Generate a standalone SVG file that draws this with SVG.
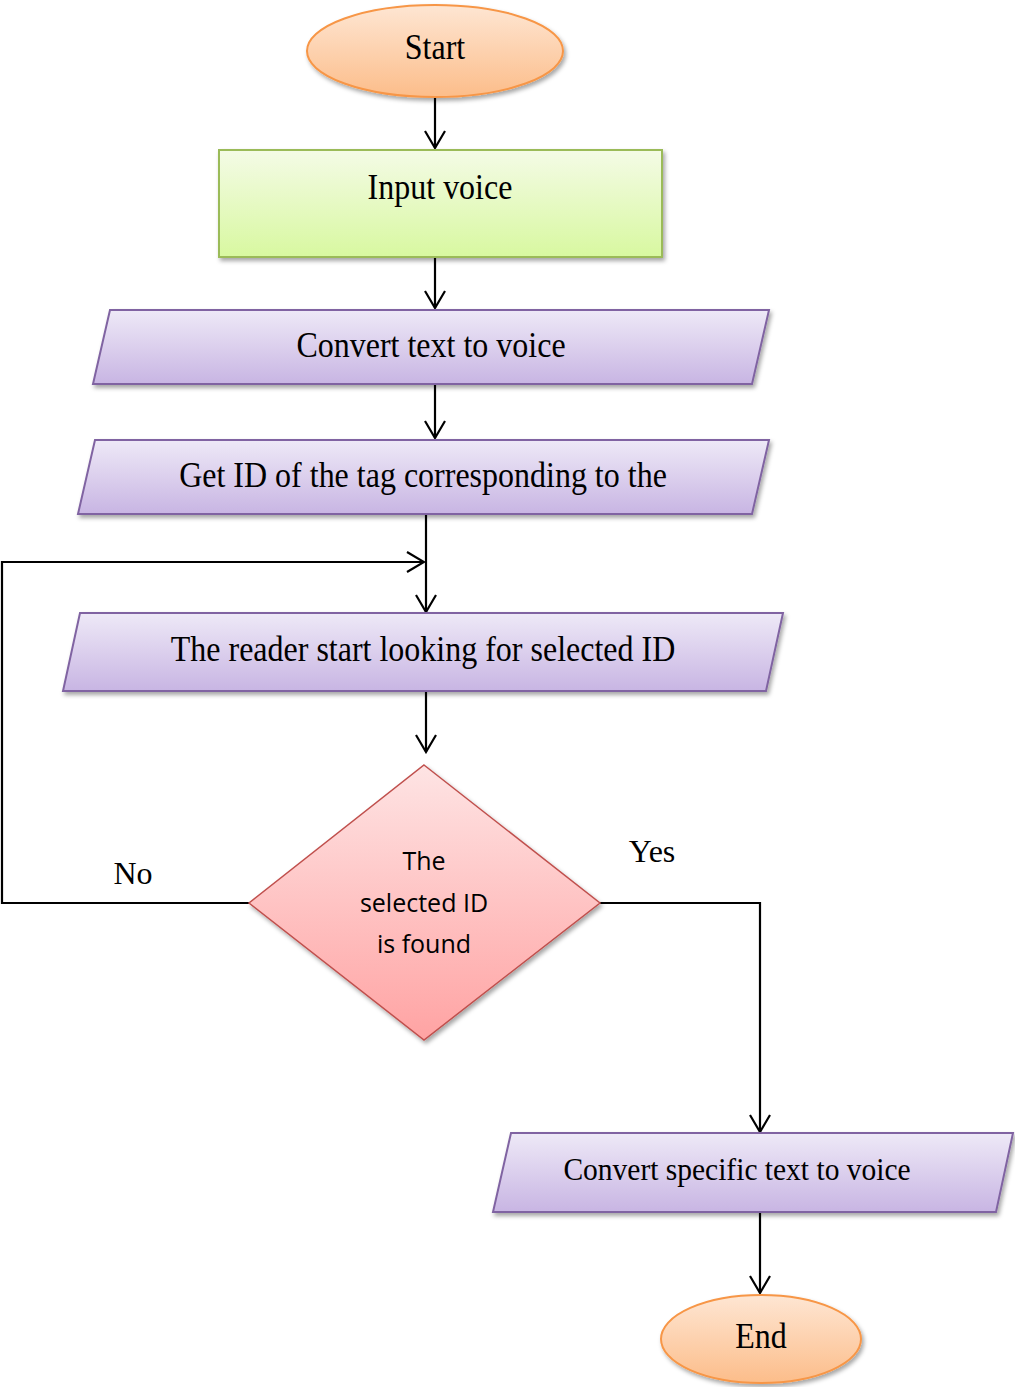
<svg xmlns="http://www.w3.org/2000/svg" width="1015" height="1387" viewBox="0 0 1015 1387">
  <style>
    .lbl { font-family: "Liberation Serif", "Times New Roman", serif; font-size: 32px; fill: #000; text-anchor: middle; }
    .lbl.small { font-size: 29.5px; }
    .dec { font-family: "Open Sans", "Liberation Sans", sans-serif; font-size: 25px; fill: #000; text-anchor: middle; }
    .wire { fill: none; stroke: #000; stroke-width: 2.2; }
    .term { fill: url(#gTerm); stroke: #f79646; stroke-width: 2; filter: url(#shadow); }
    .proc { fill: url(#gProc); stroke: #9bbb59; stroke-width: 2; filter: url(#shadow); }
    .io { fill: url(#gIO); stroke: #8064a2; stroke-width: 2; filter: url(#shadow); }
    .cond { fill: url(#gCond); stroke: #c0504d; stroke-width: 1.5; filter: url(#shadow); }
  </style>
  <defs>
    <linearGradient id="gTerm" x1="0" y1="0" x2="0" y2="1">
      <stop offset="0" stop-color="#fee6d3"/>
      <stop offset="1" stop-color="#fcbd8a"/>
    </linearGradient>
    <linearGradient id="gProc" x1="0" y1="0" x2="0" y2="1">
      <stop offset="0" stop-color="#f4fbe6"/>
      <stop offset="1" stop-color="#d8f8a0"/>
    </linearGradient>
    <linearGradient id="gIO" x1="0" y1="0" x2="0" y2="1">
      <stop offset="0" stop-color="#eee9f7"/>
      <stop offset="1" stop-color="#c8b5e3"/>
    </linearGradient>
    <linearGradient id="gCond" x1="0" y1="0" x2="0" y2="1">
      <stop offset="0" stop-color="#fee4e4"/>
      <stop offset="1" stop-color="#ffa3a3"/>
    </linearGradient>
    <filter id="shadow" x="-10%" y="-10%" width="130%" height="140%">
      <feDropShadow dx="2" dy="3" stdDeviation="2" flood-color="#000" flood-opacity="0.35"/>
    </filter>
    <marker id="arrow" viewBox="0 0 20 24" refX="18" refY="12" markerWidth="20" markerHeight="24" markerUnits="userSpaceOnUse" orient="auto">
      <path d="M1,2 L18,12 L1,22" fill="none" stroke="#000" stroke-width="2.2"/>
    </marker>
  </defs>

  <!-- connectors -->
  <g id="connectors">
    <line class="wire" x1="435" y1="98" x2="435" y2="148" marker-end="url(#arrow)"/>
    <line class="wire" x1="435" y1="258" x2="435" y2="308" marker-end="url(#arrow)"/>
    <line class="wire" x1="435" y1="385" x2="435" y2="438" marker-end="url(#arrow)"/>
    <line class="wire" x1="426" y1="515" x2="426" y2="612" marker-end="url(#arrow)"/>
    <polyline class="wire" points="249,903 2,903 2,562 424,562" marker-end="url(#arrow)"/>
    <line class="wire" x1="426" y1="692" x2="426" y2="752" marker-end="url(#arrow)"/>
    <polyline class="wire" points="600,903 760,903 760,1132" marker-end="url(#arrow)"/>
    <line class="wire" x1="760" y1="1213" x2="760" y2="1293" marker-end="url(#arrow)"/>
    <text class="lbl" x="133" y="884">No</text>
    <text class="lbl" x="652" y="862">Yes</text>
  </g>

  <g id="start">
    <ellipse class="term" cx="435" cy="51" rx="128" ry="46"/>
    <text class="lbl" transform="translate(435,59) scale(1,1.1)">Start</text>
  </g>

  <g id="input-voice">
    <rect class="proc" x="219" y="150" width="443" height="107"/>
    <text class="lbl" transform="translate(440,199) scale(1,1.1)">Input voice</text>
  </g>

  <g id="convert-text">
    <polygon class="io" points="110,310 769,310 752,384 93,384"/>
    <text class="lbl" transform="translate(431,357) scale(1,1.15)">Convert text to voice</text>
  </g>

  <g id="get-id">
    <polygon class="io" points="95,440 769,440 752,514 78,514"/>
    <text class="lbl" transform="translate(423,487) scale(1,1.15)">Get ID of the tag corresponding to the</text>
  </g>

  <g id="reader-search">
    <polygon class="io" points="80,613 783,613 766,691 63,691"/>
    <text class="lbl" transform="translate(423,661) scale(1,1.15)">The reader start looking for selected ID</text>
  </g>

  <g id="found-check">
    <polygon class="cond" points="424,765 600,903 424,1040 249,903"/>
    <text class="dec" x="424" y="870">The</text>
    <text class="dec" x="424" y="912">selected ID</text>
    <text class="dec" x="424" y="953">is found</text>
  </g>

  <g id="convert-specific">
    <polygon class="io" points="511,1133 1013,1133 996,1212 493,1212"/>
    <text class="lbl small" transform="translate(737,1180) scale(1,1.05)">Convert specific text to voice</text>
  </g>

  <g id="end">
    <ellipse class="term" cx="761" cy="1339" rx="100" ry="44"/>
    <text class="lbl" transform="translate(761,1348) scale(1,1.1)">End</text>
  </g>
</svg>
